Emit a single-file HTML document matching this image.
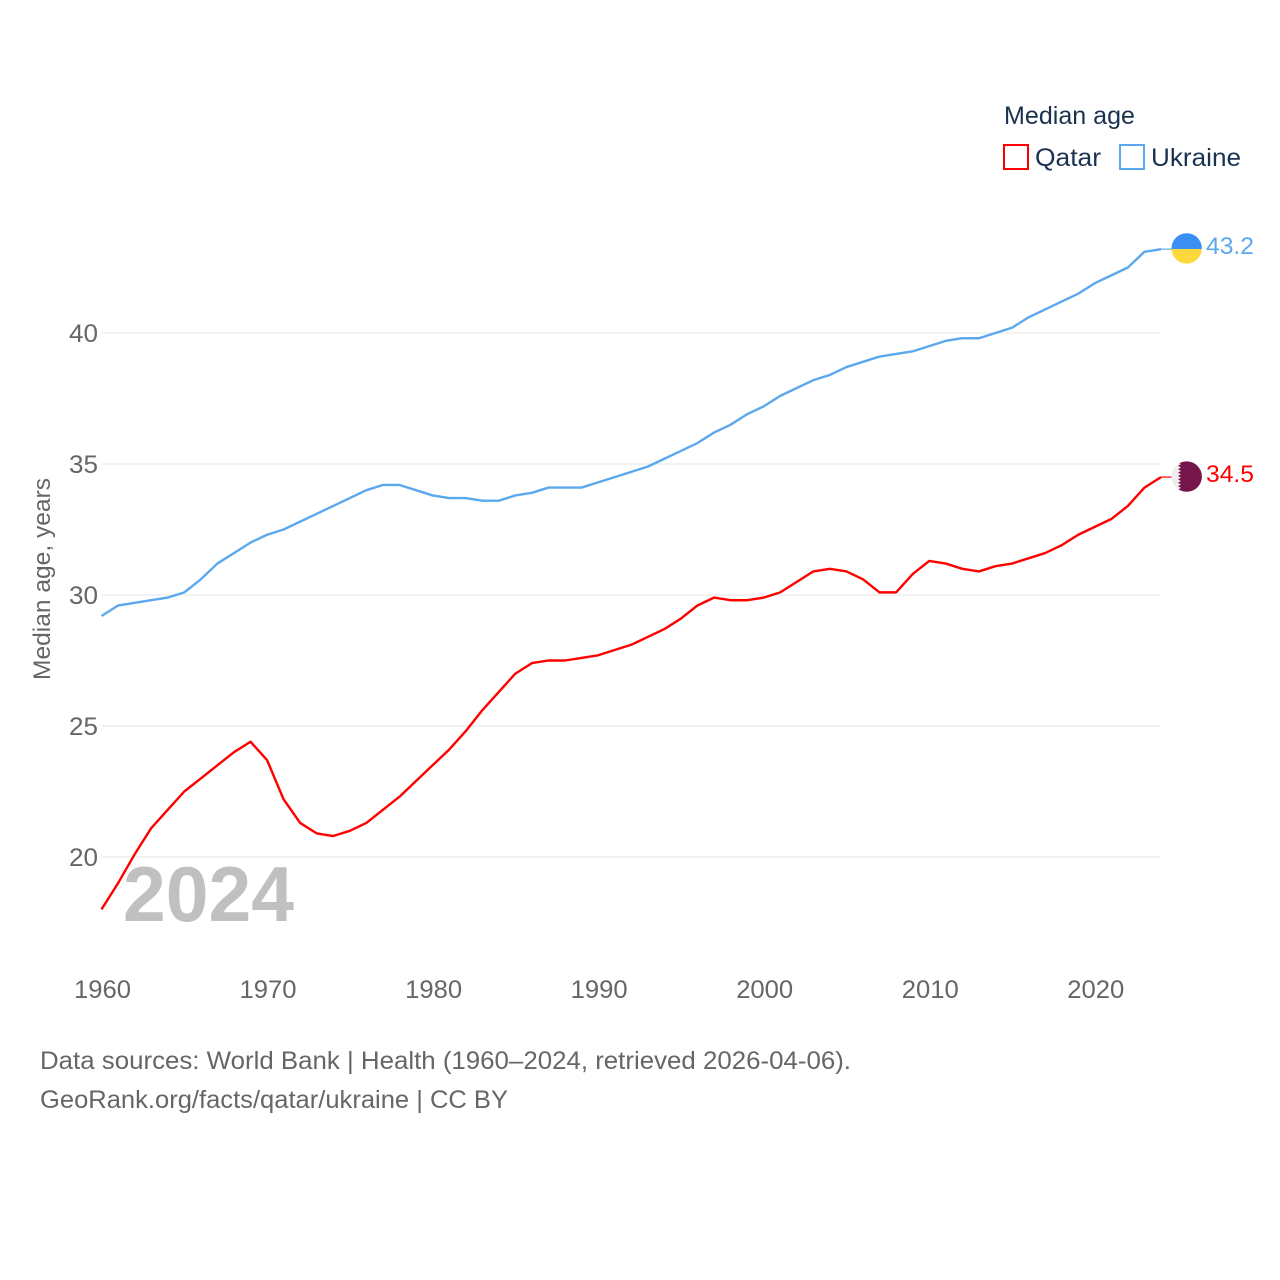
<!DOCTYPE html>
<html lang="en">
<head>
<meta charset="utf-8">
<title>Median age: Qatar and Ukraine</title>
<style>
html,body{margin:0;padding:0;background:#fff}
svg{display:block}
text{font-family:"Liberation Sans",sans-serif}
</style>
</head>
<body>
<svg id="chart" xmlns="http://www.w3.org/2000/svg" width="1280" height="1280" viewBox="0 0 1280 1280">
  <rect width="1280" height="1280" fill="#fff"/>
  <g id="grid"></g>
  <g id="yticks"></g>
  <g id="xticks"></g>
  <text transform="translate(50,680) rotate(-90)" font-size="24" fill="#666" textLength="202" lengthAdjust="spacingAndGlyphs">Median age, years</text>
  <text x="123" y="921" font-size="78" font-weight="700" fill="#c0c0c0" textLength="171" lengthAdjust="spacingAndGlyphs">2024</text>
  <g id="series"></g>

  <g>
    <clipPath id="ua-clip"><circle cx="1186.7" cy="248.4" r="15.2"/></clipPath>
    <g clip-path="url(#ua-clip)">
      <rect x="1170" y="232" width="34" height="17" fill="#3a8ff5"/>
      <rect x="1170" y="249" width="34" height="17" fill="#ffd83d"/>
    </g>
  </g>
  <g>
    <clipPath id="qa-clip"><circle cx="1186.7" cy="476.6" r="15.2"/></clipPath>
    <g clip-path="url(#qa-clip)">
      <rect x="1170" y="460" width="34" height="34" fill="#eeeeee"/>
      <polygon fill="#76154a" points="1178,461 1204,461 1204,493 1178,493 1181,491.3 1178,489.6 1181,487.9 1178,486.2 1181,484.5 1178,482.8 1181,481.1 1178,479.4 1181,477.7 1178,476 1181,474.3 1178,472.6 1181,470.9 1178,469.2 1181,467.5 1178,465.8 1181,464.1 1178,462.4"/>
    </g>
  </g>
  <text id="ua-value" x="1206" y="254" font-size="24" fill="#5ca8ee" textLength="48" lengthAdjust="spacingAndGlyphs"></text>
  <text id="qa-value" x="1206" y="482" font-size="24" fill="#ff0000" textLength="48" lengthAdjust="spacingAndGlyphs"></text>

  <g>
    <text x="1004" y="124" font-size="25" fill="#1a3150" textLength="131" lengthAdjust="spacingAndGlyphs">Median age</text>
    <g>
      <rect x="1004" y="145" width="24" height="24" fill="#fff" stroke="#ff0000" stroke-width="2"/>
      <text x="1035" y="166" font-size="25" fill="#1a3150" textLength="66" lengthAdjust="spacingAndGlyphs">Qatar</text>
    </g>
    <g>
      <rect x="1120" y="145" width="24" height="24" fill="#fff" stroke="#5ca8ee" stroke-width="2"/>
      <text x="1151" y="166" font-size="25" fill="#1a3150" textLength="90" lengthAdjust="spacingAndGlyphs">Ukraine</text>
    </g>
  </g>

  <g>
    <text x="40" y="1069" font-size="25" fill="#666" textLength="811" lengthAdjust="spacingAndGlyphs">Data sources: World Bank | Health (1960–2024, retrieved 2026-04-06).</text>
    <text x="40" y="1108" font-size="25" fill="#666" textLength="468" lengthAdjust="spacingAndGlyphs">GeoRank.org/facts/qatar/ukraine | CC BY</text>
  </g>
</svg>
<script>
const years = [1960,1961,1962,1963,1964,1965,1966,1967,1968,1969,1970,1971,1972,1973,1974,1975,1976,1977,1978,1979,1980,1981,1982,1983,1984,1985,1986,1987,1988,1989,1990,1991,1992,1993,1994,1995,1996,1997,1998,1999,2000,2001,2002,2003,2004,2005,2006,2007,2008,2009,2010,2011,2012,2013,2014,2015,2016,2017,2018,2019,2020,2021,2022,2023,2024];
const qatarValues = [18.0,19.0,20.1,21.1,21.8,22.5,23.0,23.5,24.0,24.4,23.7,22.2,21.3,20.9,20.8,21.0,21.3,21.8,22.3,22.9,23.5,24.1,24.8,25.6,26.3,27.0,27.4,27.5,27.5,27.6,27.7,27.9,28.1,28.4,28.7,29.1,29.6,29.9,29.8,29.8,29.9,30.1,30.5,30.9,31.0,30.9,30.6,30.1,30.1,30.8,31.3,31.2,31.0,30.9,31.1,31.2,31.4,31.6,31.9,32.3,32.6,32.9,33.4,34.1,34.5];
const ukraineValues = [29.2,29.6,29.7,29.8,29.9,30.1,30.6,31.2,31.6,32.0,32.3,32.5,32.8,33.1,33.4,33.7,34.0,34.2,34.2,34.0,33.8,33.7,33.7,33.6,33.6,33.8,33.9,34.1,34.1,34.1,34.3,34.5,34.7,34.9,35.2,35.5,35.8,36.2,36.5,36.9,37.2,37.6,37.9,38.2,38.4,38.7,38.9,39.1,39.2,39.3,39.5,39.7,39.8,39.8,40.0,40.2,40.6,40.9,41.2,41.5,41.9,42.2,42.5,43.1,43.2];
const yTicks = [20,25,30,35,40];
const xTicks = [1960,1970,1980,1990,2000,2010,2020];

const NS = 'http://www.w3.org/2000/svg';
function xScale(year) { return 101.5 + (year - 1960) * (1161 - 101.5) / 64; }
function yScale(value) { return 857 - (value - 20) * 26.2; }

const gridGroup = document.getElementById('grid');
const yTickGroup = document.getElementById('yticks');
const xTickGroup = document.getElementById('xticks');
const seriesGroup = document.getElementById('series');

yTicks.forEach(function (t) {
  const line = document.createElementNS(NS, 'line');
  
  
  line.setAttribute('x1', 101.5);
  line.setAttribute('x2', 1161);
  line.setAttribute('y1', yScale(t));
  line.setAttribute('y2', yScale(t));
  line.setAttribute('stroke', '#e9e9e9');
  line.setAttribute('stroke-width', 1.2);
  gridGroup.appendChild(line);

  const label = document.createElementNS(NS, 'text');
  
  
  label.setAttribute('x', 98);
  label.setAttribute('y', yScale(t) + 9);
  label.setAttribute('text-anchor', 'end');
  label.setAttribute('font-size', 25);
  label.setAttribute('fill', '#666');
  label.setAttribute('textLength', 29);
  label.setAttribute('lengthAdjust', 'spacingAndGlyphs');
  label.textContent = String(t);
  yTickGroup.appendChild(label);
});

xTicks.forEach(function (t) {
  const label = document.createElementNS(NS, 'text');
  
  
  label.setAttribute('x', xScale(t) + 1);
  label.setAttribute('y', 998);
  label.setAttribute('text-anchor', 'middle');
  label.setAttribute('font-size', 25);
  label.setAttribute('fill', '#666');
  label.setAttribute('textLength', 57);
  label.setAttribute('lengthAdjust', 'spacingAndGlyphs');
  label.textContent = String(t);
  xTickGroup.appendChild(label);
});

function linePath(values) {
  const pts = values.map(function (v, i) {
    return xScale(years[i]).toFixed(2) + ',' + yScale(v).toFixed(2);
  });
  return 'M' + pts.join('L');
}

function tailPath(values) {
  const last = values[values.length - 1];
  return 'M' + xScale(years[years.length - 1]).toFixed(2) + ',' + yScale(last).toFixed(2) + 'L1172,' + yScale(last).toFixed(2);
}

const qatarLine = document.createElementNS(NS, 'path');


qatarLine.setAttribute('d', linePath(qatarValues));
qatarLine.setAttribute('fill', 'none');
qatarLine.setAttribute('stroke', '#ff0000');
qatarLine.setAttribute('stroke-width', 2.4);
qatarLine.setAttribute('stroke-linejoin', 'round');
seriesGroup.appendChild(qatarLine);

const qatarTail = document.createElementNS(NS, 'path');


qatarTail.setAttribute('d', tailPath(qatarValues));
qatarTail.setAttribute('fill', 'none');
qatarTail.setAttribute('stroke', '#ff0000');
qatarTail.setAttribute('stroke-width', 1.2);
seriesGroup.appendChild(qatarTail);

const ukraineLine = document.createElementNS(NS, 'path');


ukraineLine.setAttribute('d', linePath(ukraineValues));
ukraineLine.setAttribute('fill', 'none');
ukraineLine.setAttribute('stroke', '#5ca8ee');
ukraineLine.setAttribute('stroke-width', 2.4);
ukraineLine.setAttribute('stroke-linejoin', 'round');
seriesGroup.appendChild(ukraineLine);

const ukraineTail = document.createElementNS(NS, 'path');


ukraineTail.setAttribute('d', tailPath(ukraineValues));
ukraineTail.setAttribute('fill', 'none');
ukraineTail.setAttribute('stroke', '#5ca8ee');
ukraineTail.setAttribute('stroke-width', 1.2);
seriesGroup.appendChild(ukraineTail);

document.getElementById('ua-value').textContent = ukraineValues[ukraineValues.length - 1].toFixed(1);
document.getElementById('qa-value').textContent = qatarValues[qatarValues.length - 1].toFixed(1);
</script>
</body>
</html>
